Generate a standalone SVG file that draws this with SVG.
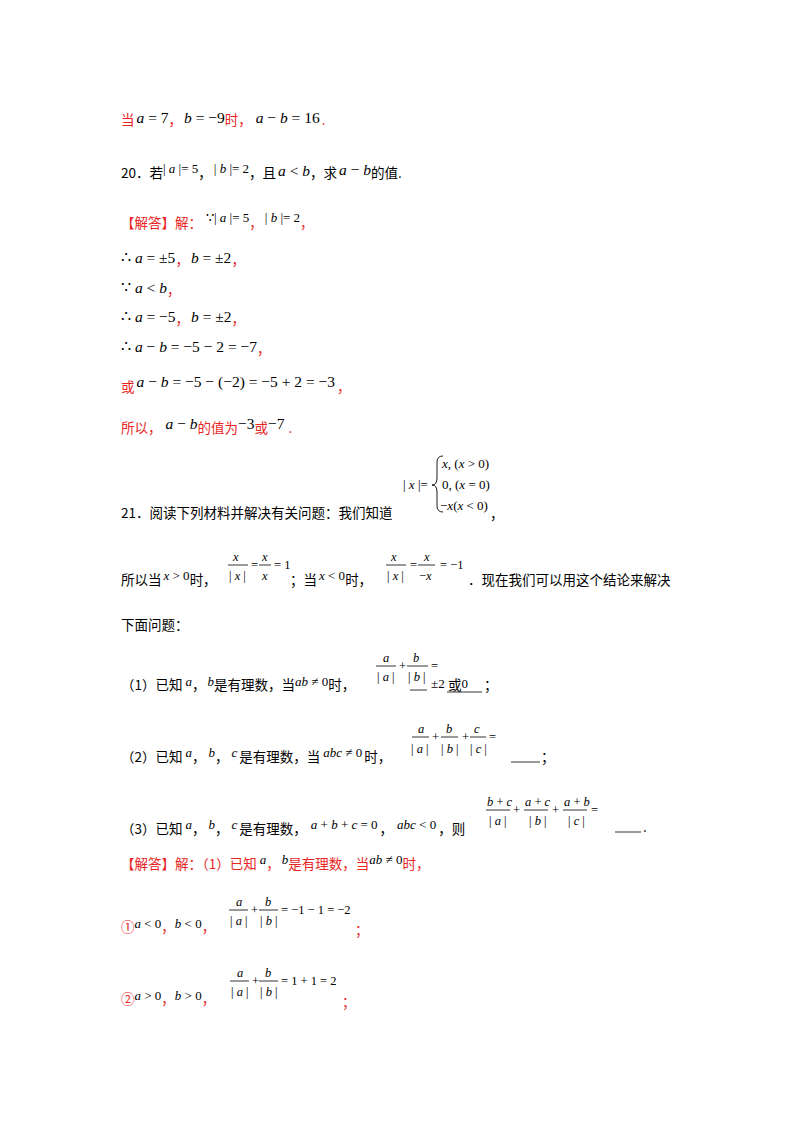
<svg xmlns="http://www.w3.org/2000/svg" width="800" height="1132" viewBox="0 0 800 1132">
<style>
text{font-family:"Noto Sans CJK SC","Liberation Serif",sans-serif;font-size:13.5px;fill:#000}
.r{fill:#e8261f}
.m{font-family:"Liberation Serif",serif;font-size:15.5px;fill:#000}
.s{font-family:"Liberation Serif",serif;font-size:13px;fill:#000}
.f{font-family:"Liberation Serif",serif;font-size:12.5px}
.i{font-style:italic}
line{stroke:#000;stroke-width:0.8}
</style>
<rect width="800" height="1132" fill="#fff"/>
<g id="l1">
<text x="121" y="125" class="r">当<tspan class="m" dy="-2" dx="2"><tspan class="i">a</tspan> = 7</tspan><tspan dy="2">，</tspan><tspan class="m" dy="-2" dx="2"><tspan class="i">b</tspan> = −9</tspan><tspan dy="2">时，</tspan><tspan class="m" dy="-2" dx="4"><tspan class="i">a</tspan> − <tspan class="i">b</tspan> = 16</tspan><tspan dy="2" dx="2">.</tspan></text>
</g>
<g id="q20">
<text x="121" y="178">20．若<tspan class="s" dy="-5">| <tspan class="i">a</tspan> |= 5</tspan><tspan dy="5">，</tspan><tspan class="s" dy="-5" dx="2">| <tspan class="i">b</tspan> |= 2</tspan><tspan dy="5">，且</tspan><tspan class="m" dy="-2" dx="2"><tspan class="i">a</tspan> &lt; <tspan class="i">b</tspan></tspan><tspan dy="2">，求</tspan><tspan class="m" dy="-3" dx="2"><tspan class="i">a</tspan> − <tspan class="i">b</tspan></tspan><tspan dy="3">的值.</tspan></text>
</g>
<g id="sol20">
<text x="121" y="228" class="r">【解答】解：<tspan class="s" dy="-6" dx="4">∵| <tspan class="i">a</tspan> |= 5</tspan><tspan dy="6">，</tspan><tspan class="s" dy="-6" dx="2">| <tspan class="i">b</tspan> |= 2</tspan><tspan dy="6">，</tspan></text>
<text x="121" y="265" class="r"><tspan class="m" dy="-2">∴ <tspan class="i">a</tspan> = ±5</tspan><tspan dy="2">，</tspan><tspan class="m" dy="-2" dx="2"><tspan class="i">b</tspan> = ±2</tspan><tspan dy="2">，</tspan></text>
<text x="121" y="295" class="r"><tspan class="m" dy="-2">∵ <tspan class="i">a</tspan> &lt; <tspan class="i">b</tspan></tspan><tspan dy="2">，</tspan></text>
<text x="121" y="324" class="r"><tspan class="m" dy="-2">∴ <tspan class="i">a</tspan> = −5</tspan><tspan dy="2">，</tspan><tspan class="m" dy="-2" dx="2"><tspan class="i">b</tspan> = ±2</tspan><tspan dy="2">，</tspan></text>
<text x="121" y="354" class="r"><tspan class="m" dy="-2">∴ <tspan class="i">a</tspan> − <tspan class="i">b</tspan> = −5 − 2 = −7</tspan><tspan dy="2">，</tspan></text>
<text x="121" y="392" class="r">或<tspan class="m" dy="-5" dx="2"><tspan class="i">a</tspan> − <tspan class="i">b</tspan> = −5 − (−2) = −5 + 2 = −3</tspan><tspan dy="5" dx="2">，</tspan></text>
<text x="121" y="433" class="r">所以，<tspan class="m" dy="-4" dx="4"><tspan class="i">a</tspan> − <tspan class="i">b</tspan></tspan><tspan dy="4">的值为</tspan><tspan class="m" dy="-4">−3</tspan><tspan dy="4">或</tspan><tspan class="m" dy="-4">−7</tspan><tspan dy="4" dx="4">.</tspan></text>
</g>
<g id="q21">
<text x="403" y="489" class="s">| <tspan class="i">x</tspan> |=</text>
<path d="M443,456 Q437,456 437,462 L437,478 Q437,485 432,485 Q437,485 437,492 L437,506 Q437,512 443,512" fill="none" stroke="#000" stroke-width="0.9"/>
<text x="442" y="468" class="s"><tspan class="i">x</tspan>, (<tspan class="i">x</tspan> &gt; 0)</text>
<text x="442" y="489" class="s">0, (<tspan class="i">x</tspan> = 0)</text>
<text x="440" y="510" class="s">−<tspan class="i">x</tspan>(<tspan class="i">x</tspan> &lt; 0)</text>
<text x="121" y="518">21．阅读下列材料并解决有关问题：我们知道</text>
<text x="490" y="519">，</text>
<text x="121" y="585">所以当<tspan class="s" dy="-5" dx="2"><tspan class="i">x</tspan> &gt; 0</tspan><tspan dy="5">时，</tspan></text>
<text x="233" y="561" class="f i">x</text>
<line x1="228" y1="565" x2="248" y2="565"/>
<text x="229" y="580" class="f">| <tspan class="i">x</tspan> |</text>
<text x="251" y="569" class="f">=</text>
<text x="262" y="561" class="f i">x</text>
<line x1="259" y1="565" x2="271" y2="565"/>
<text x="262" y="580" class="f i">x</text>
<text x="274" y="569" class="f">= 1</text>
<text x="290" y="585">；当<tspan class="s" dy="-5" dx="2"><tspan class="i">x</tspan> &lt; 0</tspan><tspan dy="5">时，</tspan></text>
<text x="391" y="561" class="f i">x</text>
<line x1="386" y1="565" x2="406" y2="565"/>
<text x="387" y="580" class="f">| <tspan class="i">x</tspan> |</text>
<text x="410" y="569" class="f">=</text>
<text x="424" y="561" class="f i">x</text>
<line x1="418" y1="565" x2="435" y2="565"/>
<text x="419" y="580" class="f">−<tspan class="i">x</tspan></text>
<text x="440" y="569" class="f">= −1</text>
<text x="468" y="585">．现在我们可以用这个结论来解决</text>
<text x="121" y="630">下面问题：</text>
</g>
<g id="p1">
<text x="121" y="690">（1）已知<tspan class="s i" dy="-4" dx="3">a</tspan><tspan dy="4">，</tspan><tspan class="s i" dy="-4" dx="2">b</tspan><tspan dy="4">是有理数，当</tspan><tspan class="s" dy="-4"><tspan class="i">ab</tspan> ≠ 0</tspan><tspan dy="4">时，</tspan></text>
<text x="383" y="662" class="f i">a</text>
<line x1="376" y1="666" x2="396" y2="666"/>
<text x="377" y="681" class="f">| <tspan class="i">a</tspan> |</text>
<text x="399" y="670" class="f">+</text>
<text x="413" y="662" class="f i">b</text>
<line x1="407" y1="666" x2="428" y2="666"/>
<text x="408" y="681" class="f">| <tspan class="i">b</tspan> |</text>
<text x="431" y="670" class="f">=</text>
<line x1="410" y1="690" x2="427" y2="690"/>
<text x="431" y="688" class="s">±2</text>
<text x="448" y="690">或<tspan class="s" dy="-2">0</tspan></text>
<line x1="447" y1="692" x2="482" y2="692"/>
<text x="484" y="690">；</text>
</g>
<g id="p2">
<text x="121" y="762">（2）已知<tspan class="s i" dy="-5" dx="3">a</tspan><tspan dy="5">，</tspan><tspan class="s i" dy="-5" dx="3">b</tspan><tspan dy="5">，</tspan><tspan class="s i" dy="-5" dx="3">c</tspan><tspan dy="5" dx="2">是有理数，当</tspan><tspan class="s" dy="-5" dx="3"><tspan class="i">abc</tspan> ≠ 0</tspan><tspan dy="5" dx="2">时，</tspan></text>
<text x="418" y="733" class="f i">a</text>
<line x1="412" y1="737" x2="429" y2="737"/>
<text x="411" y="753" class="f">| <tspan class="i">a</tspan> |</text>
<text x="432" y="741" class="f">+</text>
<text x="446" y="733" class="f i">b</text>
<line x1="441" y1="737" x2="458" y2="737"/>
<text x="441" y="753" class="f">| <tspan class="i">b</tspan> |</text>
<text x="462" y="741" class="f">+</text>
<text x="474" y="733" class="f i">c</text>
<line x1="470" y1="737" x2="486" y2="737"/>
<text x="470" y="753" class="f">| <tspan class="i">c</tspan> |</text>
<text x="489" y="741" class="f">=</text>
<line x1="511" y1="762" x2="540" y2="762"/>
<text x="541" y="762">；</text>
</g>
<g id="p3">
<text x="121" y="834">（3）已知<tspan class="s i" dy="-5" dx="3">a</tspan><tspan dy="5">，</tspan><tspan class="s i" dy="-5" dx="3">b</tspan><tspan dy="5">，</tspan><tspan class="s i" dy="-5" dx="3">c</tspan><tspan dy="5" dx="2">是有理数，</tspan><tspan class="s" dy="-5" dx="4"><tspan class="i">a</tspan> + <tspan class="i">b</tspan> + <tspan class="i">c</tspan> = 0</tspan><tspan dy="5" dx="2">，</tspan><tspan class="s" dy="-5" dx="4"><tspan class="i">abc</tspan> &lt; 0</tspan><tspan dy="5" dx="2">，则</tspan></text>
<text x="487" y="806" class="f"><tspan class="i">b</tspan> + <tspan class="i">c</tspan></text>
<line x1="486" y1="810" x2="510" y2="810"/>
<text x="489" y="825" class="f">| <tspan class="i">a</tspan> |</text>
<text x="513" y="814" class="f">+</text>
<text x="525" y="806" class="f"><tspan class="i">a</tspan> + <tspan class="i">c</tspan></text>
<line x1="524" y1="810" x2="548" y2="810"/>
<text x="529" y="825" class="f">| <tspan class="i">b</tspan> |</text>
<text x="552" y="814" class="f">+</text>
<text x="564" y="806" class="f"><tspan class="i">a</tspan> + <tspan class="i">b</tspan></text>
<line x1="563" y1="810" x2="587" y2="810"/>
<text x="568" y="825" class="f">| <tspan class="i">c</tspan> |</text>
<text x="591" y="814" class="f">=</text>
<line x1="615" y1="832" x2="641" y2="832"/>
<text x="643" y="832">.</text>
</g>
<g id="sol21">
<text x="121" y="869" class="r">【解答】解：（1）已知<tspan class="s i" dy="-5" dx="3">a</tspan><tspan dy="5">，</tspan><tspan class="s i" dy="-5" dx="2">b</tspan><tspan dy="5">是有理数，当</tspan><tspan class="s" dy="-5"><tspan class="i">ab</tspan> ≠ 0</tspan><tspan dy="5">时，</tspan></text>
<text x="121" y="932" class="r">①<tspan class="s" dy="-4"><tspan class="i">a</tspan> &lt; 0</tspan><tspan dy="4">，</tspan><tspan class="s" dy="-4"><tspan class="i">b</tspan> &lt; 0</tspan><tspan dy="4">，</tspan></text>
<text x="236" y="906" class="f i">a</text>
<line x1="229" y1="910" x2="248" y2="910"/>
<text x="230" y="925" class="f">| <tspan class="i">a</tspan> |</text>
<text x="251" y="914" class="f">+</text>
<text x="265" y="906" class="f i">b</text>
<line x1="259" y1="910" x2="278" y2="910"/>
<text x="260" y="925" class="f">| <tspan class="i">b</tspan> |</text>
<text x="281" y="914" class="f">= −1 − 1 = −2</text>
<text x="355" y="935" class="r">；</text>
<text x="121" y="1004" class="r">②<tspan class="s" dy="-4"><tspan class="i">a</tspan> &gt; 0</tspan><tspan dy="4">，</tspan><tspan class="s" dy="-4"><tspan class="i">b</tspan> &gt; 0</tspan><tspan dy="4">，</tspan></text>
<text x="237" y="977" class="f i">a</text>
<line x1="230" y1="981" x2="249" y2="981"/>
<text x="231" y="996" class="f">| <tspan class="i">a</tspan> |</text>
<text x="252" y="985" class="f">+</text>
<text x="265" y="977" class="f i">b</text>
<line x1="259" y1="981" x2="278" y2="981"/>
<text x="260" y="996" class="f">| <tspan class="i">b</tspan> |</text>
<text x="281" y="985" class="f">= 1 + 1 = 2</text>
<text x="342" y="1007" class="r">；</text>
</g>
</svg>
